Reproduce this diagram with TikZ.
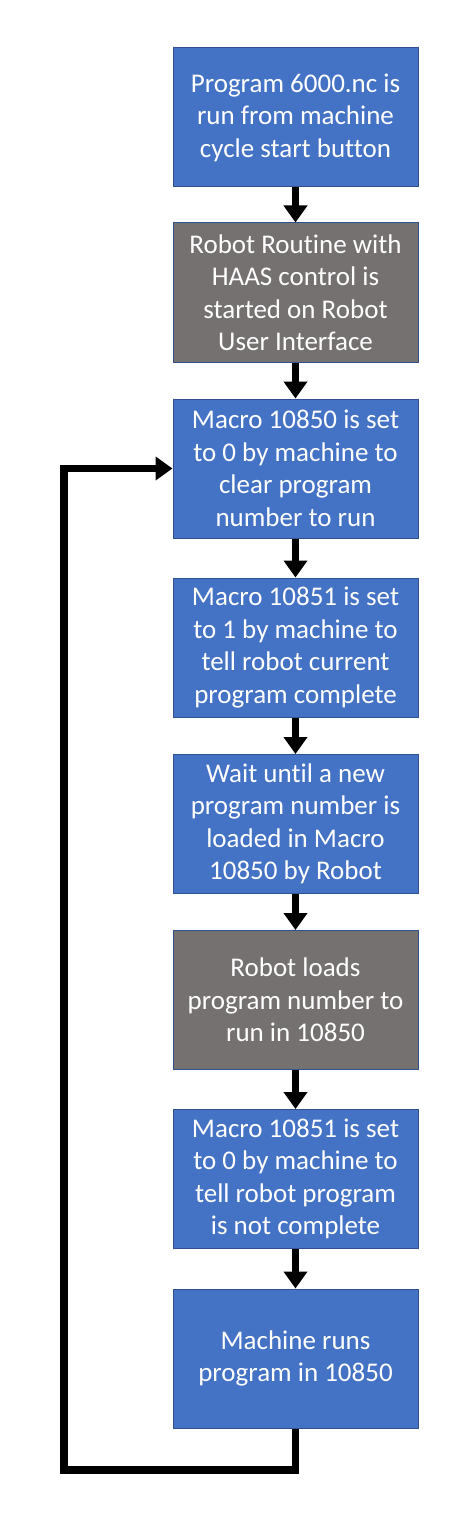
\documentclass[tikz,border=0pt]{standalone}
\usepackage{fontspec}
\setmainfont{Carlito}[Ligatures=NoCommon]
\usetikzlibrary{arrows.meta}
\definecolor{stepblue}{HTML}{4472C4}
\definecolor{stepgray}{HTML}{767171}
\definecolor{edgeblue}{HTML}{2F528F}

\begin{document}
\begin{tikzpicture}[x=1pt,y=-1pt,
  box/.style={draw=edgeblue, line width=1pt, minimum width=245pt, minimum height=139pt, inner sep=0pt, text=white, align=center, font=\fontsize{27}{32.5}\selectfont},
  bluebox/.style={box, fill=stepblue},
  graybox/.style={box, fill=stepgray},
  flow/.style={line width=7.5pt, line join=miter, -{Triangle[length=17pt,width=23pt]}}]
\useasboundingbox (0,0) rectangle (470,1522);
\node[bluebox] (start)   at (295.5,117.5) {Program 6000.nc is\\run from machine\\cycle start button};
\node[graybox] (routine) at (295.5,292.5) {Robot Routine with\\HAAS control is\\started on Robot\\User Interface};
\node[bluebox] (clear)   at (295.5,468.5) {Macro 10850 is set\\to 0 by machine to\\clear program\\number to run};
\node[bluebox] (done)    at (295.5,647.5) {Macro 10851 is set\\to 1 by machine to\\tell robot current\\program complete};
\node[bluebox] (wait)    at (295.5,824)   {Wait until a new\\program number is\\loaded in Macro\\10850 by Robot};
\node[graybox] (load)    at (295.5,1000)  {Robot loads\\program number to\\run in 10850};
\node[bluebox] (notdone) at (295.5,1179)  {Macro 10851 is set\\to 0 by machine to\\tell robot program\\is not complete};
\node[bluebox] (run)     at (295.5,1358.5) {Machine runs\\program in 10850};
\foreach \a/\b in {start/routine, routine/clear, clear/done, done/wait, wait/load, load/notdone, notdone/run} {
 \draw[flow] (\a.south) -- (\b.north);
}
% loop back
\coordinate (loopbot) at (64,1470);
\draw[flow] (run.south) |- (loopbot) |- (clear.west);
\end{tikzpicture}
\end{document}
